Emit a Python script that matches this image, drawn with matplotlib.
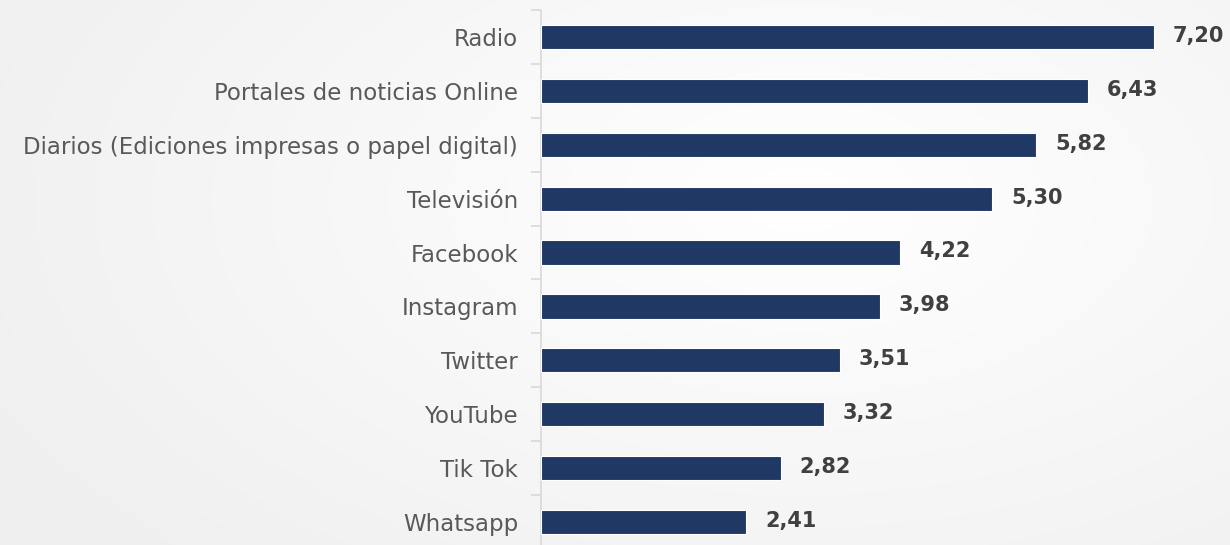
import matplotlib.pyplot as plt
import numpy as np

categorias = ["Radio", "Portales de noticias Online", "Diarios (Ediciones impresas o papel digital)",
              "Televisión", "Facebook", "Instagram", "Twitter", "YouTube", "Tik Tok", "Whatsapp"]
valores = [7.20, 6.43, 5.82, 5.30, 4.22, 3.98, 3.51, 3.32, 2.82, 2.41]

plt.rcParams['font.family'] = ['DejaVu Sans']

fig = plt.figure(figsize=(12.3, 5.45), dpi=100)
fig.patch.set_facecolor('#f6f6f6')

# fondo con degradado suave
yy, xx = np.mgrid[0:545, 0:1230]
r = np.sqrt(((xx - 800) / 900.0) ** 2 + ((yy - 200) / 500.0) ** 2)
g = np.clip(1.0 - 0.06 * r, 0.94, 1.0)
bg = np.dstack([g, g, g])
fig.figimage(bg, 0, 0, zorder=-5)

ax = fig.add_axes([541 / 1230, -4 / 545, 681 / 1230, 539 / 545])
ax.set_zorder(2)
ax.patch.set_alpha(0)

y = np.arange(len(categorias))
ax.barh(y, valores, height=0.45, color='#203864', edgecolor='white', linewidth=0.8, zorder=3)

for yi, v in zip(y, valores):
    ax.text(v + 0.22, yi - 0.02, f"{v:.2f}".replace('.', ','), va='center', ha='left',
            fontsize=15, fontweight='bold', color='#404040')

ax.set_ylim(len(categorias) - 0.5, -0.5)
ax.set_xlim(0, 8)
ax.set_yticks(y)
ax.set_yticklabels(categorias, fontsize=16.5, color='#595959')
ax.tick_params(axis='y', which='major', length=0, pad=16.5)
ax.set_yticks(np.arange(-0.5, len(categorias), 1), minor=True)
ax.tick_params(axis='y', which='minor', length=7, color='#d9d9d9', width=1.2)
ax.set_xticks([])
for s in ['top', 'right', 'bottom']:
    ax.spines[s].set_visible(False)
ax.spines['left'].set_color('#d9d9d9')
ax.spines['left'].set_linewidth(1.2)

fig.savefig('out.png', dpi=100, facecolor=fig.get_facecolor())
